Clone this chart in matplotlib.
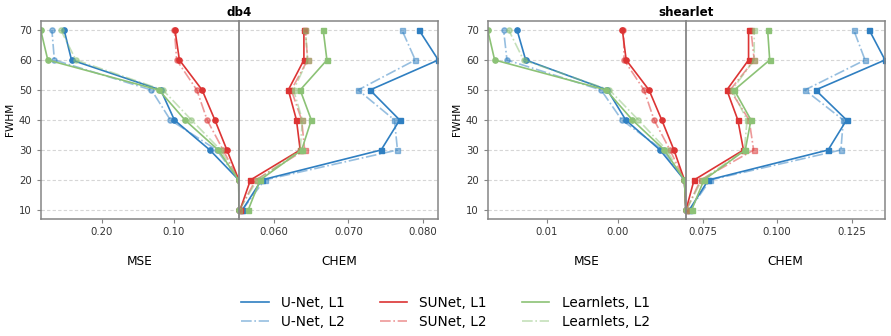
import numpy as np
import matplotlib
matplotlib.use("Agg")
from matplotlib import pyplot as plt
from matplotlib.lines import Line2D

# FWHM levels (y axis)
fwhm = [10, 20, 30, 40, 50, 60, 70]

models = ["U-Net", "SUNet", "Learnlets"]
losses = ["L1", "L2"]

# db4 - MSE
db4_mse = {
    "U-Net, L1": [0.0086, 0.0090, 0.0495, 0.0990, 0.1180, 0.2426, 0.2529],
    "U-Net, L2": [0.0086, 0.0090, 0.0400, 0.1046, 0.1310, 0.2665, 0.2700],
    "SUNet, L1": [0.0085, 0.0090, 0.0257, 0.0425, 0.0603, 0.0920, 0.0982],
    "SUNet, L2": [0.0085, 0.0090, 0.0310, 0.0533, 0.0677, 0.0958, 0.0990],
    "Learnlets, L1": [0.0085, 0.0095, 0.0378, 0.0842, 0.1206, 0.2757, 0.2856],
    "Learnlets, L2": [0.0084, 0.0090, 0.0345, 0.0752, 0.1150, 0.2365, 0.2575],
}
# db4 - CHEM
db4_chem = {
    "U-Net, L1": [0.0557, 0.0583, 0.0744, 0.0769, 0.0729, 0.0821, 0.0795],
    "U-Net, L2": [0.0557, 0.0587, 0.0766, 0.0762, 0.0713, 0.0790, 0.0772],
    "SUNet, L1": [0.0554, 0.0568, 0.0635, 0.0630, 0.0619, 0.0640, 0.0640],
    "SUNet, L2": [0.0553, 0.0575, 0.0641, 0.0637, 0.0623, 0.0645, 0.0642],
    "Learnlets, L1": [0.0565, 0.0581, 0.0637, 0.0650, 0.0635, 0.0671, 0.0666],
    "Learnlets, L2": [0.0553, 0.0577, 0.0635, 0.0638, 0.0626, 0.0645, 0.0642],
}
# shearlet - MSE
shearlet_mse = {
    "U-Net, L1": [0.00020, 0.00030, 0.00202, 0.00444, 0.00573, 0.01150, 0.01211],
    "U-Net, L2": [0.00020, 0.00030, 0.00183, 0.00472, 0.00618, 0.01282, 0.01306],
    "SUNet, L1": [0.00020, 0.00030, 0.00104, 0.00190, 0.00280, 0.00441, 0.00468],
    "SUNet, L2": [0.00020, 0.00030, 0.00132, 0.00244, 0.00315, 0.00456, 0.00460],
    "Learnlets, L1": [0.00020, 0.00030, 0.00172, 0.00397, 0.00582, 0.01369, 0.01418],
    "Learnlets, L2": [0.00019, 0.00030, 0.00155, 0.00355, 0.00559, 0.01165, 0.01270],
}
# shearlet - CHEM
shearlet_chem = {
    "U-Net, L1": [0.0705, 0.0769, 0.1171, 0.1233, 0.1129, 0.1362, 0.1309],
    "U-Net, L2": [0.0706, 0.0775, 0.1214, 0.1222, 0.1093, 0.1295, 0.1257],
    "SUNet, L1": [0.0694, 0.0721, 0.0887, 0.0868, 0.0831, 0.0904, 0.0904],
    "SUNet, L2": [0.0695, 0.0743, 0.0921, 0.0906, 0.0842, 0.0923, 0.0912],
    "Learnlets, L1": [0.0713, 0.0754, 0.0893, 0.0912, 0.0856, 0.0975, 0.0968],
    "Learnlets, L2": [0.0695, 0.0747, 0.0890, 0.0899, 0.0848, 0.0923, 0.0923],
}

# tick positions / labels
db4_mse_ticks = [0.20, 0.10]
db4_mse_labels = ["0.20", "0.10"]
db4_chem_ticks = [0.060, 0.070, 0.080]
db4_chem_labels = ["0.060", "0.070", "0.080"]
shearlet_mse_ticks = [0.010, 0.005]
shearlet_mse_labels = ["0.01", "0.00"]
shearlet_chem_ticks = [0.075, 0.100, 0.125]
shearlet_chem_labels = ["0.075", "0.100", "0.125"]

colors = {"U-Net": "#2f7fc1", "SUNet": "#dc3434", "Learnlets": "#8cc276"}
spine_col = "#858585"

fig = plt.figure(figsize=(8.91, 3.36), dpi=100)


def style_ax(ax, ticks, labels, xlabel):
    ax.set_ylim(7, 73.1)
    ax.set_yticks(fwhm)
    ax.grid(axis="y", linestyle=(0, (3, 2)), color="#d6d6d6", linewidth=0.8)
    ax.set_axisbelow(True)
    ax.set_xticks(ticks)
    ax.set_xticklabels(labels)
    ax.tick_params(axis="x", labelsize=7.3, colors="#333333", length=3, width=0.8, pad=3)
    ax.tick_params(axis="x", color=spine_col)
    ax.set_xlabel(xlabel, fontsize=8.7, labelpad=13)
    for s in ax.spines.values():
        s.set_color(spine_col)
        s.set_linewidth(1.1)


def draw_panel(x0, xm, x1, title, mse, chem, mse_ticks, mse_labels, chem_ticks, chem_labels):
    bottom, top = 1 - 219 / 336, 1 - 20.7 / 336
    h = top - bottom
    ax_l = fig.add_axes([x0 / 891, bottom, (xm - x0) / 891, h])
    ax_r = fig.add_axes([xm / 891, bottom, (x1 - xm) / 891, h])

    for m in models:
        for loss in losses:
            key = f"{m}, {loss}"
            ls = "-" if loss == "L1" else "-."
            a = 1.0 if loss == "L1" else 0.5
            ax_l.plot(mse[key], fwhm, ls, color=colors[m], alpha=a, marker="o",
                      markersize=3.8, linewidth=1.2)
            ax_r.plot(chem[key], fwhm, ls, color=colors[m], alpha=a, marker="s",
                      markersize=3.6, linewidth=1.2)

    all_mse = np.concatenate([mse[k] for k in mse])
    all_chem = np.concatenate([chem[k] for k in chem])
    ax_l.set_xlim(all_mse.max(), all_mse.min())
    ax_r.set_xlim(all_chem.min(), all_chem.max())

    style_ax(ax_l, mse_ticks, mse_labels, "MSE")
    style_ax(ax_r, chem_ticks, chem_labels, "CHEM")

    ax_l.spines["right"].set_visible(False)
    ax_r.spines["left"].set_linewidth(1.3)
    ax_r.tick_params(axis="y", left=False, labelleft=False)
    ax_l.tick_params(axis="y", labelsize=7.3, colors="#333333", length=3, width=0.8)
    ax_l.tick_params(axis="y", color=spine_col)
    ax_l.set_ylabel("FWHM", fontsize=7.6, labelpad=3)

    fig.text(xm / 891, 1 - 12 / 336, title, ha="center", va="center",
             fontsize=8.6, fontweight="bold")


draw_panel(40.7, 239.3, 438.3, "db4", db4_mse, db4_chem,
           db4_mse_ticks, db4_mse_labels, db4_chem_ticks, db4_chem_labels)
draw_panel(487.7, 686.0, 885.0, "shearlet", shearlet_mse, shearlet_chem,
           shearlet_mse_ticks, shearlet_mse_labels, shearlet_chem_ticks, shearlet_chem_labels)

# legend
handles, names = [], []
for m in models:
    for loss in losses:
        ls = "-" if loss == "L1" else "-."
        a = 1.0 if loss == "L1" else 0.5
        handles.append(Line2D([], [], color=colors[m], alpha=a, linestyle=ls, linewidth=1.2))
        names.append(f"{m}, {loss}")
fig.legend(handles, names, ncol=3, loc="center", bbox_to_anchor=(0.5, 1 - 312.5 / 336),
           frameon=False, fontsize=9.8, handlelength=2.0, columnspacing=2.6,
           labelspacing=0.35, handletextpad=0.9)

fig.savefig("out.png", dpi=100)
